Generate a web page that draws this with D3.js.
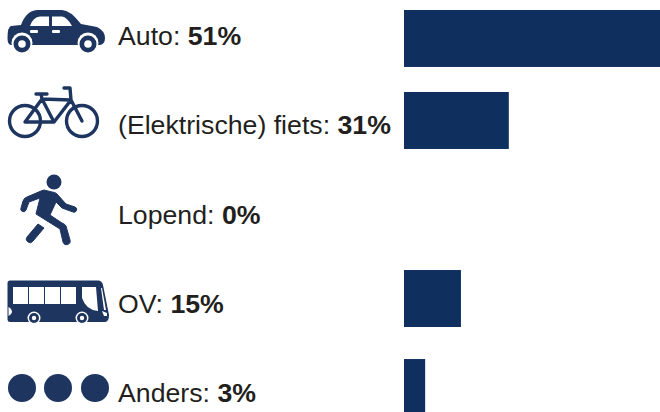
<!DOCTYPE html>
<html>

<head>
  <title>Vervoer</title>
  <script src="https://cdn.jsdelivr.net/npm/d3@7"></script>
  <style>
    html, body { margin: 0; padding: 0; background: #fff; overflow: hidden; }
  </style>
</head>

<body>
  <svg width="660" height="412" id="mainsvg"></svg>

  <script>
    const categories = ['Auto', '(Elektrische) fiets', 'Lopend', 'OV', 'Anders'];
    const labelValues = [51, 31, 0, 15, 3];
    // bar lengths as drawn in the picture, they do not follow the printed percentages
    const barValues = [51, 20.8, 0, 11.3, 4.2];

    const navy = '#0f2f5f';
    const iconColor = '#1d355f';
    const textColor = '#231f20';

    const svg = d3.select('#mainsvg');

    const yScale = d3.scaleBand().domain(categories).range([3, 416]).paddingInner(0.36).paddingOuter(0);
    const xScale = d3.scaleLinear().domain([0, 51]).range([404, 661]);

    // first bar sits a bit lower than the regular row spacing
    const barOffset = name => name === 'Auto' ? 7 : 0;

    svg.selectAll('rect.bar').data(categories).join('rect')
      .attr('class', 'bar')
      .attr('x', xScale(0))
      .attr('y', d => yScale(d) + barOffset(d))
      .attr('width', (d, i) => xScale(barValues[i]) - xScale(0))
      .attr('height', yScale.bandwidth())
      .attr('fill', navy);

    // labels
    const labelY = d3.scalePoint().domain(categories).range([45, 402]);
    const labels = svg.selectAll('text.label').data(categories).join('text')
      .attr('class', 'label')
      .attr('x', 118)
      .attr('y', d => labelY(d))
      .attr('font-family', 'Liberation Sans, Arial, sans-serif')
      .attr('font-size', 26.7)
      .attr('fill', textColor);
    labels.append('tspan').text(d => d + ': ');
    labels.append('tspan').attr('font-weight', 'bold').text((d, i) => labelValues[i] + '%');

    // icons
    const icons = svg.append('g').attr('fill', iconColor);

    // car
    const car = icons.append('g');
    car.append('path').attr('d', 'M7.5 38 Q7.5 27 11 26 L21 25 Q26 11 37 10 L62 10 Q70 10 81 24 L97 27 Q105 31 105 38 Q105 44 100 45 L11 45 Q7.5 45 7.5 38 Z');
    car.append('path').attr('fill', '#fff').attr('d', 'M30 26 Q33 17 40 16.5 L49 16.5 L49 26 Z');
    car.append('path').attr('fill', '#fff').attr('d', 'M52 16.5 L62 16.5 Q67 17 72 26 L52 26 Z');
    car.append('rect').attr('fill', '#fff').attr('x', 30).attr('y', 30).attr('width', 8).attr('height', 3).attr('rx', 1);
    car.append('rect').attr('fill', '#fff').attr('x', 52).attr('y', 30).attr('width', 8).attr('height', 3).attr('rx', 1);
    [22, 88].forEach(cx => {
      car.append('circle').attr('cx', cx).attr('cy', 43).attr('r', 10.5).attr('fill', '#fff');
      car.append('circle').attr('cx', cx).attr('cy', 44).attr('r', 8.5);
      car.append('circle').attr('cx', cx).attr('cy', 44).attr('r', 3.8).attr('fill', '#fff');
    });

    // bike
    const bike = icons.append('g').attr('fill', 'none').attr('stroke', iconColor).attr('stroke-width', 3.4).attr('stroke-linejoin', 'round').attr('stroke-linecap', 'round');
    bike.append('circle').attr('cx', 25).attr('cy', 121).attr('r', 15.5);
    bike.append('circle').attr('cx', 82).attr('cy', 121).attr('r', 15.5);
    bike.append('path').attr('d', 'M25 122 L42 99 L54 122 Z M42 99 L41 94 M36 94 L47 94 M42 99 L71 100 L54 122 M71 100 L82 121 M71 100 L70 88 L64 88');

    // walker
    const walker = icons.append('g').attr('stroke', iconColor).attr('stroke-width', 1).attr('stroke-linejoin', 'round');
    walker.append('circle').attr('cx', 54).attr('cy', 182).attr('r', 7).attr('stroke', 'none').attr('r', 7.5);
    walker.append('path').attr('d', 'M41 191 L27 197 Q24 198 23 201 L21 208 A2.5 2.5 0 0 0 26 210 L29 202 L40 198 L36 214 L60 229 L63 242 A3.4 3.4 0 0 0 70 240 L66 226 Q65 224 62 223 L50 215 L56 202 L62 208 L73 212 A2.4 2.4 0 0 0 75 207 L66 204 L57 194 Q55 192 52 192 L44 190 Z');
    walker.append('path').attr('d', 'M38 224 L44 228 L33 241 A3.6 3.6 0 0 1 27 237 Z');

    // bus
    const bus = icons.append('g');
    bus.append('path').attr('d', 'M10 280.5 L98 280.5 Q102 280.5 103 285 L109 315 Q109 322 105 322 L10 322 Q7.5 322 7.5 319 L7.5 283 Q7.5 280.5 10 280.5 Z');
    [13, 29, 45, 61].forEach(x => bus.append('rect').attr('fill', '#fff').attr('x', x).attr('y', 287).attr('width', 15).attr('height', 17));
    bus.append('path').attr('fill', '#fff').attr('d', 'M82 287 L96 287 L98 311 Q86 310 82 298 Z');
    bus.append('path').attr('fill', '#fff').attr('d', 'M102 288 L106 310 L104 310 L101 288 Z');
    bus.append('path').attr('fill', '#fff').attr('d', 'M8.5 307 Q12 309 12 312 Q12 314 8.5 316 Z');
    bus.append('path').attr('fill', '#fff').attr('d', 'M102 311 L107 313 L107 316 L104 316 Z');
    [34, 82].forEach(cx => {
      bus.append('circle').attr('cx', cx).attr('cy', 318).attr('r', 6.5).attr('fill', '#fff');
      bus.append('circle').attr('cx', cx).attr('cy', 318).attr('r', 5);
      bus.append('circle').attr('cx', cx).attr('cy', 318).attr('r', 2.2).attr('fill', '#fff');
    });

    // dots
    [22, 58, 95].forEach(cx => icons.append('circle').attr('cx', cx).attr('cy', 388).attr('r', 14));
  </script>
</body>

</html>
